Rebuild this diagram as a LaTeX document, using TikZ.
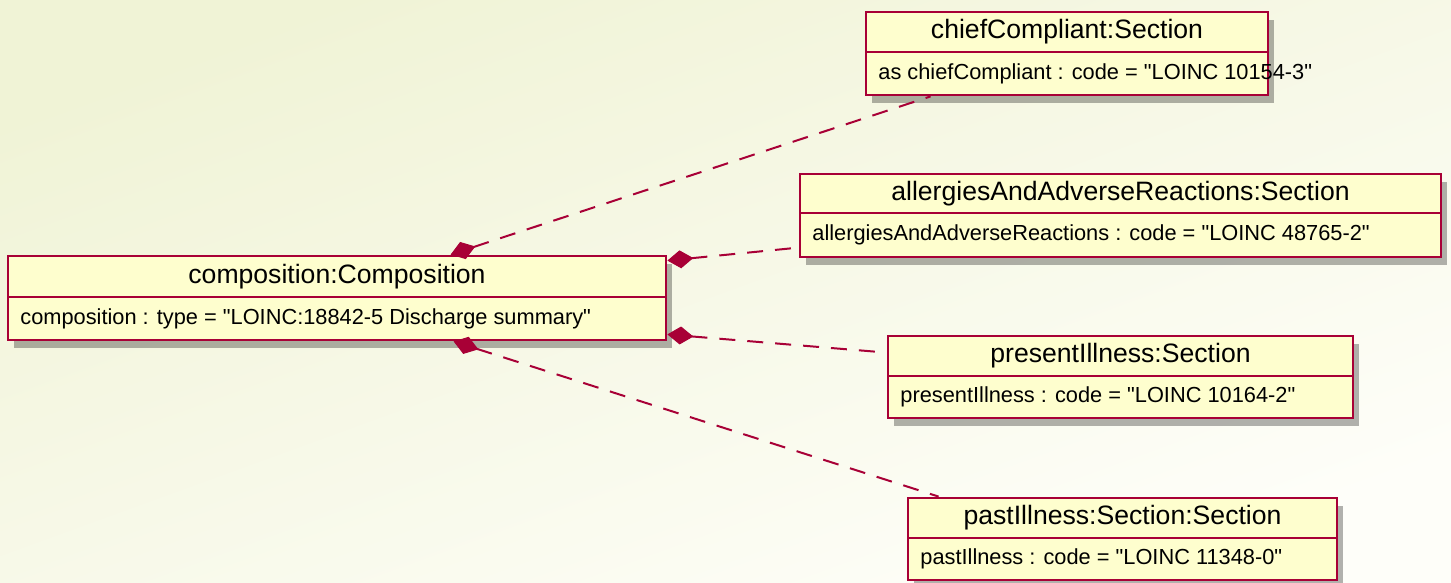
\documentclass[tikz,border=0pt]{standalone}
\usepackage{fontspec}
\setmainfont{Liberation Sans}[Ligatures=TeXOff]
\usetikzlibrary{arrows.meta,shadows,fit,calc}
\definecolor{umlred}{HTML}{A80036}
\definecolor{umlfill}{HTML}{FEFECE}
\definecolor{bgA}{HTML}{F0F3D6}
\definecolor{bgB}{HTML}{FEFEF9}
\tikzset{
  umlbox/.style={draw=umlred, line width=1.4pt, fill=umlfill, inner sep=0pt,
    drop shadow={shadow xshift=3pt, shadow yshift=-4pt, fill=black, opacity=0.3}},
  umlline/.style={draw=umlred, line width=1.4pt},
  titletext/.style={font=\fontsize{13.3}{15}\selectfont, inner sep=0pt, text=black},
  attrtext/.style={font=\fontsize{10.9}{13}\selectfont, inner sep=0pt, text=black},
  conn/.style={draw=umlred, line width=1pt, dash pattern=on 8pt off 6pt,
    {Diamond[length=13pt,width=9pt,fill=umlred,line width=0.5pt]}-}
}
\newcommand\umlbox[8]{%
  \node[umlbox, fit={(#2,#3)(#4,#5)}] (#1) {};
  \draw[umlline] (#2,#6) -- (#4,#6);
  \node[titletext] (#1-t) at ({(#2+#4)/2},{(#3+#6)/2}) {#7};
  \node[attrtext, anchor=west] (#1-a) at ({#2+12},{(#6+#5)/2}) {#8};
}
\begin{document}
\begin{tikzpicture}[x=0.5pt,y=-0.5pt]
  \shade[shading=axis, top color=bgA, bottom color=bgB, shading angle=20]
    (0,0) rectangle (1451,583);
  \useasboundingbox (0,0) rectangle (1451,583);

  \umlbox{comp}{8}{256}{666}{340}{297}{composition:Composition}{composition : type = "LOINC:18842-5 Discharge summary"}
  \umlbox{chief}{866}{12}{1268}{95}{52}{chiefCompliant:Section}{as chiefCompliant : code = "LOINC 10154-3"}
  \umlbox{allergy}{800}{174}{1441}{257}{213}{allergiesAndAdverseReactions:Section}{allergiesAndAdverseReactions : code = "LOINC 48765-2"}
  \umlbox{present}{888}{336}{1353}{418}{376}{presentIllness:Section}{presentIllness : code = "LOINC 10164-2"}
  \umlbox{past}{908}{498}{1337}{580}{538}{pastIllness:Section:Section}{pastIllness : code = "LOINC 11348-0"}

  \coordinate (c1) at ($(comp.north west)+(444,0)$);
  \coordinate (c2) at ($(comp.north east)+(0,6)$);
  \coordinate (c3) at ($(comp.south east)+(0,-7)$);
  \coordinate (c4) at ($(comp.south west)+(447,0)$);
  \coordinate (t1) at ($(chief.south west)+(66,0)$);
  \coordinate (t2) at ($(allergy.north west)+(0,75)$);
  \coordinate (t3) at ($(present.north west)+(0,18)$);
  \coordinate (t4) at ($(past.north west)+(32,0)$);

  \draw[conn] (c1) -- (t1);
  \draw[conn] (c2) -- (t2);
  \draw[conn] (c3) -- (t3);
  \draw[conn] (c4) -- (t4);
\end{tikzpicture}
\end{document}
